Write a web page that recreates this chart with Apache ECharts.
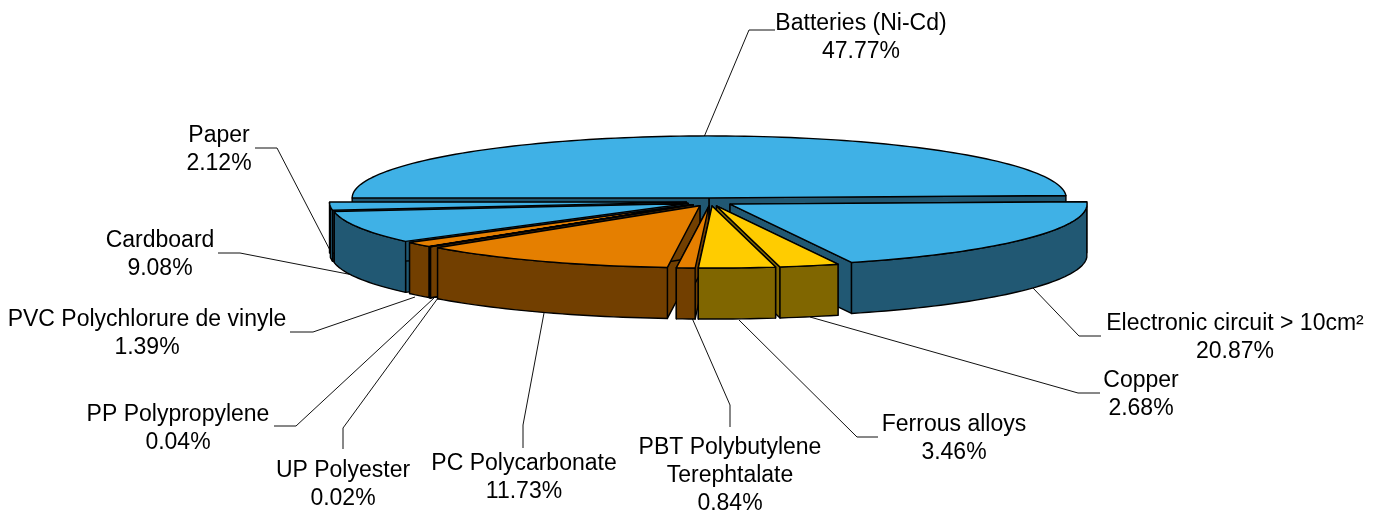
<!DOCTYPE html>
<html><head><meta charset="utf-8">
<style>html,body{margin:0;padding:0;background:#fff}#c{width:1381px;height:513px}</style>
<script src="https://cdn.jsdelivr.net/npm/echarts@6/dist/echarts.min.js"></script>
</head><body><div id="c"></div>
<script>
const categories = ['Batteries (Ni-Cd)','Electronic circuit > 10cm²','Copper','Ferrous alloys','PBT Polybutylene\nTerephtalate','PC Polycarbonate','UP Polyester','PP Polypropylene','PVC Polychlorure de vinyle','Cardboard','Paper'];
const shares = [47.77,20.87,2.68,3.46,0.84,11.73,0.02,0.04,1.39,9.08,2.12];
const shareLabels = ['47.77%','20.87%','2.68%','3.46%','0.84%','11.73%','0.02%','0.04%','1.39%','9.08%','2.12%'];

// Layout of the drawing (not data)
const topColors = ['#3FB1E6','#3FB1E6','#FFCC00','#FFCC00','#E57F00','#E57F00','#E57F00','#E57F00','#E57F00','#3FB1E6','#3FB1E6'];
const sideColors = ['#215873','#215873','#806600','#806600','#723F00','#723F00','#723F00','#723F00','#723F00','#215873','#215873'];
const CX=710, CY=202, RX=357, RY=62, H=51, EXPLODE=23.5, START=-88;
const labelCentres = [[861,24],[1235,324],[1141,381],[954,425],[730,448],[524,464],[343,471],[178,415],[147,320],[160,241],[219,136]];
const leaders = [
 [[704,137],[749,30],[775,30]],
 [[1033,288],[1079,336],[1101,336]],
 [[810,317],[1078,393],[1100,393]],
 [[739,320],[857,437],[878,437]],
 [[692,318],[730,405],[730,427]],
 [[544,313],[523,425],[523,448]],
 [[438,298],[343,428],[343,449]],
 [[434,298],[296,426],[274,426]],
 [[415,297],[313,332],[290,332]],
 [[353,275],[240,253],[218,253]],
 [[333,256],[277,148],[255,148]]
];

const rad = d => d*Math.PI/180;
let acc = START;
const arcs = shares.map(v => { const a0=acc; acc+=v*3.6; return [a0,acc]; });
const depth = i => { const m=(arcs[i][0]+arcs[i][1])/2; let d=Math.abs(((m%360)+360)%360-176); return 180-d; };
const order = shares.map((_,i)=>i).sort((a,b)=>depth(a)-depth(b));
const stroke = {stroke:'#000',lineWidth:1.4,lineJoin:'round'};
// the original's perspective slightly bends angles
const warp = t => t + 1 + 3*Math.pow(Math.sin(rad(t)),9);

function renderItem(params, api){
  const i = params.dataIndex, [a0,a1]=arcs[i], m=(a0+a1)/2;
  const ox = CX+EXPLODE*Math.sin(rad(m)), oy = CY-EXPLODE*RY/RX*Math.cos(rad(m));
  const pt = t => { const w=rad(warp(t)); return [ox+RX*Math.sin(w), oy-RY*Math.cos(w)]; };
  const n = Math.max(2,Math.ceil((a1-a0)/1.5));
  const rim=[]; for(let k=0;k<=n;k++) rim.push(a0+(a1-a0)*k/n);
  const z = 10+order.indexOf(i)*5;
  const side=sideColors[i], top=topColors[i];
  const kids=[];
  const poly=(pts,fill,zz)=>kids.push({type:'polygon',shape:{points:pts},style:Object.assign({fill},stroke),z2:zz});
  const down=p=>[p[0],p[1]+H];
  const A=[ox,oy], P0=pt(a0), P1=pt(a1);
  poly([A,P0,down(P0),down(A)],side,z);
  poly([A,P1,down(P1),down(A)],side,z);
  // outer wall: only the part facing the viewer
  const f0=Math.max(a0,88), f1=Math.min(a1,268);
  if(f1>f0){
    const w=[]; const m2=Math.max(2,Math.ceil((f1-f0)/1.5));
    for(let k=0;k<=m2;k++) w.push(pt(f0+(f1-f0)*k/m2));
    poly(w.concat(w.slice().reverse().map(down)),side,z+1);
  }
  poly([A].concat(rim.map(pt)),top,z+2);
  // leader + label
  kids.push({type:'polyline',shape:{points:leaders[i]},style:{stroke:'#111',lineWidth:1,fill:null},z2:1});
  const [lx,ly]=labelCentres[i];
  const lines=(categories[i]+'\n'+shareLabels[i]).split('\n');
  lines.forEach((t,k)=>kids.push({type:'text',style:{text:t,x:lx,y:ly+k*28,align:'center',verticalAlign:'middle',fill:'#000',font:'23px "Liberation Sans", Arial, sans-serif'},z2:200}));
  return {type:'group',children:kids};
}
const chart = echarts.init(document.getElementById('c'),null,{renderer:'canvas'});
chart.setOption({
  animation:false,
  backgroundColor:'#fff',
  series:[{type:'custom',coordinateSystem:'none',renderItem,silent:true,clip:false,
    data:shares.map((v,i)=>({name:categories[i],value:[v]}))}]
});
</script></body></html>
